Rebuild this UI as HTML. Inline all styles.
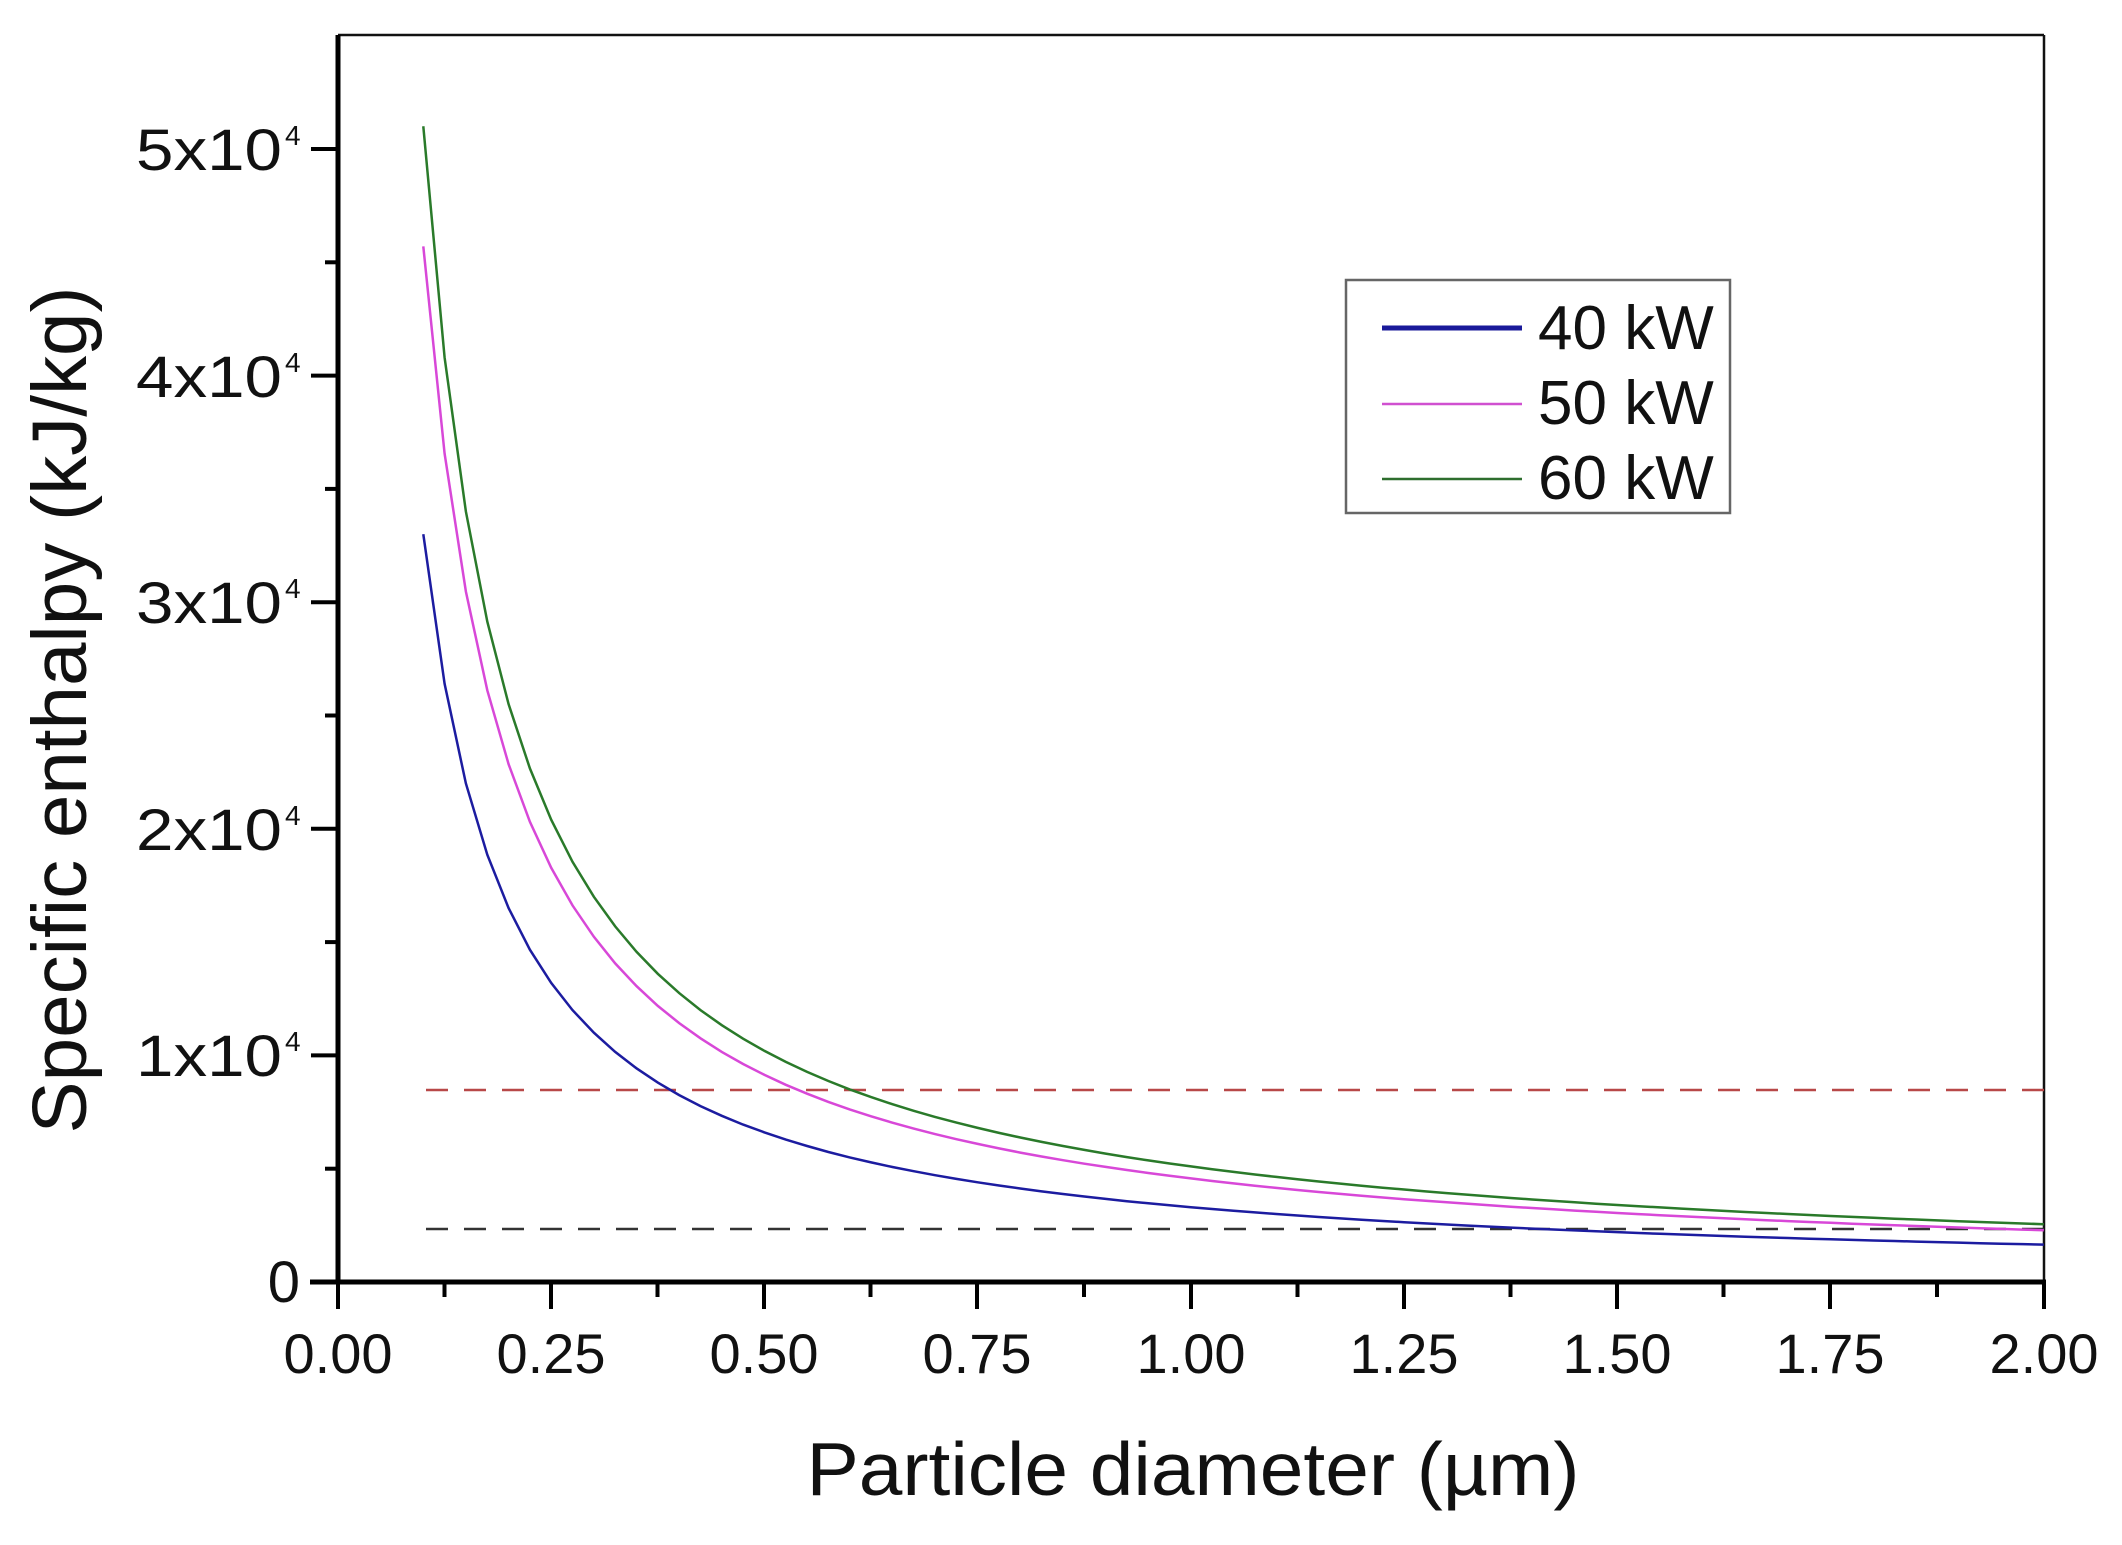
<!DOCTYPE html>
<html><head><meta charset="utf-8"><style>html,body{margin:0;padding:0;background:#fff}svg{display:block}</style></head>
<body>
<svg width="2122" height="1545" viewBox="0 0 2122 1545" xmlns="http://www.w3.org/2000/svg" font-family="Liberation Sans, Arial, sans-serif">
<rect width="2122" height="1545" fill="#fff"/>
<line x1="338" y1="35" x2="2044" y2="35" stroke="#111" stroke-width="2.5"/>
<line x1="2044" y1="35" x2="2044" y2="1282" stroke="#111" stroke-width="2.5"/>
<line x1="338" y1="35" x2="338" y2="1284" stroke="#000" stroke-width="5"/>
<line x1="310" y1="1282" x2="2046" y2="1282" stroke="#000" stroke-width="5"/>
<g stroke="#000" stroke-width="4">
<line x1="311" y1="149" x2="338" y2="149"/><line x1="311" y1="375.6" x2="338" y2="375.6"/><line x1="311" y1="602.2" x2="338" y2="602.2"/><line x1="311" y1="828.8" x2="338" y2="828.8"/><line x1="311" y1="1055.4" x2="338" y2="1055.4"/>
<line x1="325" y1="262.3" x2="338" y2="262.3"/><line x1="325" y1="488.9" x2="338" y2="488.9"/><line x1="325" y1="715.5" x2="338" y2="715.5"/><line x1="325" y1="942.1" x2="338" y2="942.1"/><line x1="325" y1="1168.7" x2="338" y2="1168.7"/>
<line x1="338" y1="1282" x2="338" y2="1309"/><line x1="551" y1="1282" x2="551" y2="1309"/><line x1="764" y1="1282" x2="764" y2="1309"/><line x1="977" y1="1282" x2="977" y2="1309"/><line x1="1191" y1="1282" x2="1191" y2="1309"/><line x1="1404" y1="1282" x2="1404" y2="1309"/><line x1="1617" y1="1282" x2="1617" y2="1309"/><line x1="1830" y1="1282" x2="1830" y2="1309"/><line x1="2044" y1="1282" x2="2044" y2="1309"/>
<line x1="444.5" y1="1282" x2="444.5" y2="1297"/><line x1="657.5" y1="1282" x2="657.5" y2="1297"/><line x1="870.5" y1="1282" x2="870.5" y2="1297"/><line x1="1084" y1="1282" x2="1084" y2="1297"/><line x1="1297.5" y1="1282" x2="1297.5" y2="1297"/><line x1="1510.5" y1="1282" x2="1510.5" y2="1297"/><line x1="1723.5" y1="1282" x2="1723.5" y2="1297"/><line x1="1937" y1="1282" x2="1937" y2="1297"/>
</g>
<g font-size="56" text-anchor="middle" fill="#111">
<text x="338" y="1373">0.00</text><text x="551" y="1373">0.25</text><text x="764" y="1373">0.50</text><text x="977" y="1373">0.75</text><text x="1191" y="1373">1.00</text><text x="1404" y="1373">1.25</text><text x="1617" y="1373">1.50</text><text x="1830" y="1373">1.75</text><text x="2044" y="1373">2.00</text>
</g>
<g font-size="58" fill="#111">
<text x="136" y="170" textLength="146" lengthAdjust="spacingAndGlyphs">5x10</text>
<text x="136" y="397" textLength="146" lengthAdjust="spacingAndGlyphs">4x10</text>
<text x="136" y="623" textLength="146" lengthAdjust="spacingAndGlyphs">3x10</text>
<text x="136" y="850" textLength="146" lengthAdjust="spacingAndGlyphs">2x10</text>
<text x="136" y="1076" textLength="146" lengthAdjust="spacingAndGlyphs">1x10</text>
<text x="300" y="1302" text-anchor="end">0</text>
</g>
<g font-size="28" fill="#111">
<text x="285" y="145">4</text><text x="285" y="372">4</text><text x="285" y="598">4</text><text x="285" y="825">4</text><text x="285" y="1051">4</text>
</g>
<text x="1193" y="1495" font-size="75" text-anchor="middle" textLength="773" lengthAdjust="spacingAndGlyphs" fill="#111">Particle diameter (µm)</text>
<text transform="translate(86,710) rotate(-90)" font-size="77" text-anchor="middle" textLength="847" lengthAdjust="spacingAndGlyphs" fill="#111">Specific enthalpy (kJ/kg)</text>
<line x1="426" y1="1090" x2="2044" y2="1090" stroke="#b84848" stroke-width="2.5" stroke-dasharray="22,16"/>
<line x1="426" y1="1229" x2="2044" y2="1229" stroke="#333" stroke-width="2.5" stroke-dasharray="22,16"/>
<g id="curves" fill="none" stroke-width="2.5"></g>
<rect x="1346" y="280" width="384" height="233" fill="#fff" stroke="#666" stroke-width="2.5"/>
<line x1="1382" y1="328" x2="1522" y2="328" stroke="#1a1a9a" stroke-width="5"/>
<line x1="1382" y1="404" x2="1522" y2="404" stroke="#d050d0" stroke-width="2.5"/>
<line x1="1382" y1="479" x2="1522" y2="479" stroke="#2e6e2e" stroke-width="2.5"/>
<g font-size="62" fill="#111">
<text x="1538" y="349">40 kW</text><text x="1538" y="424">50 kW</text><text x="1538" y="499">60 kW</text>
</g>
<script>
(function(){
 var g=document.getElementById('curves');
 var series=[[5100,'#2a7a2a'],[4570,'#d848d8'],[3300,'#1c1ca0']];
 series.forEach(function(s){
  var pts=[];
  for(var i=0;i<=76;i++){
   var d=0.1+i*0.025;
   var x=338+d*852.9, y=1282-(s[0]/d)*0.02266;
   pts.push(x.toFixed(1)+','+y.toFixed(1));
  }
  var p=document.createElementNS('http://www.w3.org/2000/svg','polyline');
  p.setAttribute('points',pts.join(' '));
  p.setAttribute('stroke',s[1]);
  g.appendChild(p);
 });
})();
</script>
</svg>
</body></html>
